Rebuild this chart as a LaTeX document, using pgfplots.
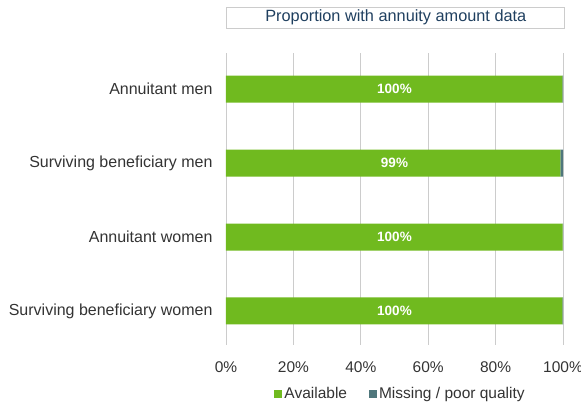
\documentclass[border=0pt]{standalone}
\usepackage{pgfplots}
\usepackage{pgfplotstable}
\pgfplotsset{compat=1.18}
\usepackage{fontspec}
\setmainfont{Liberation Sans}
\definecolor{avail}{HTML}{70BA1F}
\definecolor{miss}{HTML}{4F777C}
\definecolor{txt}{HTML}{333333}
\definecolor{ttl}{HTML}{1F3F5F}
\definecolor{grd}{HTML}{CCCCCC}
\pgfplotstableread{
y avail miss
0 99.8 0.2
1 99.9 0.1
2 99.2 0.8
3 99.8 0.2
}\datatab
\tikzset{barlbl/.style={text=white, font=\bfseries\fontsize{13.5}{16}\selectfont}}
\begin{document}
\begin{tikzpicture}[x=1pt,y=1pt]
\path[use as bounding box] (-226pt,-61pt) rectangle (355pt,345pt);
\begin{axis}[
  scale only axis, width=337pt, height=292pt,
  at={(0,0)}, anchor=south west,
  xbar stacked, bar width=27pt,
  xmin=0, xmax=100, ymin=-0.46, ymax=3.49,
  ytick={0,1,2,3},
  yticklabels={Surviving beneficiary women, Annuitant women, Surviving beneficiary men, Annuitant men},
  xtick={0,20,40,60,80,100},
  xticklabel={\pgfmathprintnumber{\tick}\%},
  /pgf/number format/assume math mode=true,
  xmajorgrids, major grid style={grd, line width=0.8pt},
  axis line style={draw=none},
  major tick length=0pt,
  xticklabel style={font=\fontsize{15.5}{18}\selectfont, text=txt, yshift=-13pt},
  yticklabel style={font=\fontsize{16}{19}\selectfont, text=txt, xshift=-10pt},
  legend style={at={(0.518,-0.168)}, anchor=center, draw=none, fill=none,
    font=\fontsize{15.5}{18}\selectfont, text=txt, legend columns=2,
    /tikz/every even column/.append style={column sep=20pt}},
  legend image code/.code={\fill[#1] (0pt,-4pt) rectangle (8pt,4pt);},
  clip=false,
  after end axis/.code={
    \node[barlbl] at (axis cs:50,3) {100\%};
    \node[barlbl] at (axis cs:50,2) {99\%};
    \node[barlbl] at (axis cs:50,1) {100\%};
    \node[barlbl] at (axis cs:50,0) {100\%};
  },
]
\addplot[fill=avail, draw=none] table[x=avail, y=y] {\datatab};
\addlegendentry{Available}
\addplot[fill=miss, draw=none] table[x=miss, y=y] {\datatab};
\addlegendentry{Missing / poor quality}
\node[draw=grd, line width=0.8pt, minimum width=338pt, minimum height=21pt, inner sep=0pt,
  text=ttl, font=\fontsize{16.3}{19}\selectfont]
  at (rel axis cs:0.504,1.1216) {Proportion with annuity amount data};
\end{axis}
\end{tikzpicture}
\end{document}
